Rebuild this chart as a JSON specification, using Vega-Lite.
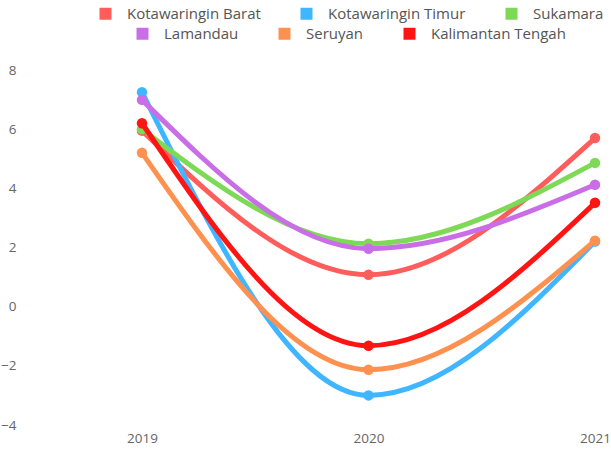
{
  "$schema": "https://vega.github.io/schema/vega-lite/v6.json",
  "width": 591,
  "height": 355,
  "autosize": {"type": "none"},
  "padding": {"left": 20, "top": 70, "right": 0, "bottom": 26},
  "config": {"view": {"stroke": null}, "font": "Open Sans"},
  "data": {
    "values": [
      {"wilayah": "Kotawaringin Barat", "tahun": 2019, "nilai": 5.95},
      {"wilayah": "Kotawaringin Barat", "tahun": 2020, "nilai": 1.08},
      {"wilayah": "Kotawaringin Barat", "tahun": 2021, "nilai": 5.7},
      {"wilayah": "Kotawaringin Timur", "tahun": 2019, "nilai": 7.25},
      {"wilayah": "Kotawaringin Timur", "tahun": 2020, "nilai": -3.0},
      {"wilayah": "Kotawaringin Timur", "tahun": 2021, "nilai": 2.2},
      {"wilayah": "Sukamara", "tahun": 2019, "nilai": 6.0},
      {"wilayah": "Sukamara", "tahun": 2020, "nilai": 2.13},
      {"wilayah": "Sukamara", "tahun": 2021, "nilai": 4.86},
      {"wilayah": "Lamandau", "tahun": 2019, "nilai": 6.99},
      {"wilayah": "Lamandau", "tahun": 2020, "nilai": 1.96},
      {"wilayah": "Lamandau", "tahun": 2021, "nilai": 4.12},
      {"wilayah": "Seruyan", "tahun": 2019, "nilai": 5.2},
      {"wilayah": "Seruyan", "tahun": 2020, "nilai": -2.13},
      {"wilayah": "Seruyan", "tahun": 2021, "nilai": 2.23},
      {"wilayah": "Kalimantan Tengah", "tahun": 2019, "nilai": 6.2},
      {"wilayah": "Kalimantan Tengah", "tahun": 2020, "nilai": -1.32},
      {"wilayah": "Kalimantan Tengah", "tahun": 2021, "nilai": 3.51}
    ]
  },
  "encoding": {
    "x": {
      "field": "tahun",
      "type": "quantitative",
      "scale": {"domain": [2018.4614, 2021.0706]},
      "axis": {"values": [2019, 2020, 2021], "format": "d", "grid": false, "ticks": false, "domain": false, "labelPadding": 6, "labelFontSize": 13.5, "labelColor": "#666666", "title": null, "labelFlush": false}
    },
    "y": {
      "field": "nilai",
      "type": "quantitative",
      "scale": {"domain": [-4, 8]},
      "axis": {"values": [-4, -2, 0, 2, 4, 6, 8], "grid": false, "ticks": false, "domain": false, "labelPadding": 4, "labelFontSize": 13.5, "labelColor": "#666666", "title": null}
    }
  },
  "layer": [
    {
      "transform": [{"filter": "indexof(['Kotawaringin Barat','Kotawaringin Timur','Sukamara'], datum.wilayah) >= 0"}],
      "encoding": {
        "color": {
          "field": "wilayah",
          "type": "nominal",
          "sort": ["Kotawaringin Barat", "Kotawaringin Timur", "Sukamara"],
          "scale": {"domain": ["Kotawaringin Barat", "Kotawaringin Timur", "Sukamara"], "range": ["#ff5c5c", "#3fb6ff", "#7ed957"]},
          "legend": {"orient": "none", "legendX": 78, "legendY": -64, "direction": "horizontal", "title": null, "symbolType": "square", "symbolSize": 144, "symbolStrokeWidth": 0, "symbolOpacity": 1, "labelFontSize": 15, "labelColor": "#555555", "labelOffset": 14, "columnPadding": 38}
        }
      },
      "layer": [
        {"mark": {"type": "line", "interpolate": "monotone", "strokeWidth": 5}},
        {"mark": {"type": "point", "filled": true, "size": 110, "opacity": 1}}
      ]
    },
    {
      "transform": [{"filter": "indexof(['Lamandau','Seruyan','Kalimantan Tengah'], datum.wilayah) >= 0"}],
      "encoding": {
        "color": {
          "field": "wilayah",
          "type": "nominal",
          "sort": ["Lamandau", "Seruyan", "Kalimantan Tengah"],
          "scale": {"domain": ["Lamandau", "Seruyan", "Kalimantan Tengah"], "range": ["#c96ee6", "#ff9150", "#ff1414"]},
          "legend": {"orient": "none", "legendX": 115, "legendY": -44, "direction": "horizontal", "title": null, "symbolType": "square", "symbolSize": 144, "symbolStrokeWidth": 0, "symbolOpacity": 1, "labelFontSize": 15, "labelColor": "#555555", "labelOffset": 14, "columnPadding": 38}
        }
      },
      "layer": [
        {"mark": {"type": "line", "interpolate": "monotone", "strokeWidth": 5}},
        {"mark": {"type": "point", "filled": true, "size": 110, "opacity": 1}}
      ]
    }
  ],
  "resolve": {"scale": {"color": "independent"}}
}
